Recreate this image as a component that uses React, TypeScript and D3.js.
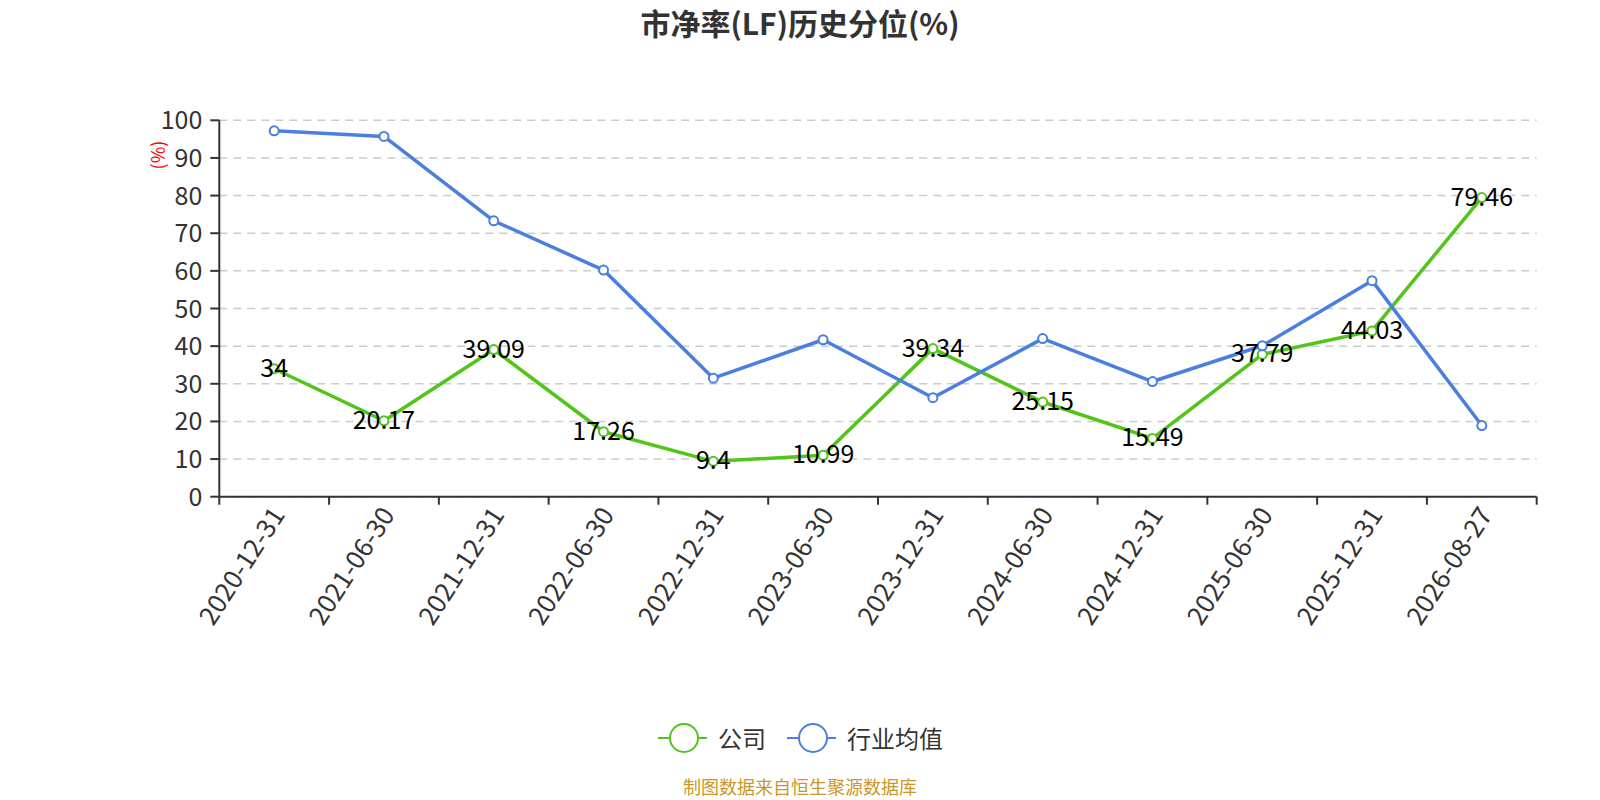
import React from "react";
import * as d3 from "d3";

const categories = [
  "2020-12-31", "2021-06-30", "2021-12-31", "2022-06-30", "2022-12-31", "2023-06-30",
  "2023-12-31", "2024-06-30", "2024-12-31", "2025-06-30", "2025-12-31", "2026-08-27",
];
const companyValues = [34, 20.17, 39.09, 17.26, 9.4, 10.99, 39.34, 25.15, 15.49, 37.79, 44.03, 79.46];
const industryValues = [97.2, 95.7, 73.3, 60.2, 31.5, 41.7, 26.3, 42.0, 30.6, 40.1, 57.4, 18.9];
const yTicks = [0, 10, 20, 30, 40, 50, 60, 70, 80, 90, 100];
const seriesNames = ["公司", "行业均值"];
const titleText = "市净率(LF)历史分位(%)";
const yAxisName = "(%)";
const footerText = "制图数据来自恒生聚源数据库";

const W = 1600;
const H = 800;
const left = 219.3;
const right = 1536.7;
const top = 120.3;
const bottom = 496.7;
const GREEN = "#52c41a";
const BLUE = "#4a7fe0";
const FONT = "'Noto Sans CJK SC', 'Noto Sans', sans-serif";

export default function App() {
  const x = d3.scaleBand<string>().domain(categories).range([left, right]);
  const y = d3.scaleLinear().domain([0, 100]).range([bottom, top]);
  const cx = (c: string) => (x(c) as number) + x.bandwidth() / 2;
  const line = d3
    .line<number>()
    .x((_, i) => cx(categories[i]))
    .y((d) => y(d));

  const series = [
    { name: seriesNames[0], values: companyValues, color: GREEN },
    { name: seriesNames[1], values: industryValues, color: BLUE },
  ];

  const legendItems = [
    { name: seriesNames[0], color: GREEN, x0: 658 },
    { name: seriesNames[1], color: BLUE, x0: 787 },
  ];

  return (
    <svg
      width={W}
      height={H}
      style={{ position: "absolute", left: 0, top: 0, background: "#fff" }}
      fontFamily={FONT}
    >
      <text x={800} y={22} textAnchor="middle" dominantBaseline="central" fontSize={30} fontWeight="bold" fill="#333">
        {titleText}
      </text>

      {/* grid */}
      {yTicks.map((t) => (
        <line
          key={"g" + t}
          x1={left}
          x2={right}
          y1={y(t)}
          y2={y(t)}
          stroke="#ccc"
          strokeWidth={1.5}
          strokeDasharray="8,6"
        />
      ))}

      {/* y axis */}
      <line x1={left} x2={left} y1={top} y2={bottom} stroke="#333" strokeWidth={2} />
      {yTicks.map((t) => (
        <g key={"y" + t}>
          <line x1={left - 9} x2={left} y1={y(t)} y2={y(t)} stroke="#333" strokeWidth={2} />
          <text x={left - 17} y={y(t) - 2} textAnchor="end" dominantBaseline="central" fontSize={25} fill="#333">
            {t}
          </text>
        </g>
      ))}
      <text
        transform={`translate(157,155) rotate(-90)`}
        textAnchor="middle"
        dominantBaseline="central"
        fontSize={18}
        fill="red"
      >
        {yAxisName}
      </text>

      {/* x axis */}
      <line x1={left} x2={right} y1={bottom} y2={bottom} stroke="#333" strokeWidth={2} />
      {[...categories.map((c) => x(c) as number), right].map((p, i) => (
        <line key={"xt" + i} x1={p} x2={p} y1={bottom} y2={bottom + 8} stroke="#333" strokeWidth={2} />
      ))}
      {categories.map((c) => (
        <text
          key={"xl" + c}
          transform={`translate(${cx(c) + 2},${bottom + 12}) rotate(-57)`}
          textAnchor="end"
          dominantBaseline="central"
          fontSize={26}
          fill="#333"
        >
          {c}
        </text>
      ))}

      {/* series */}
      {series.map((s) => (
        <g key={s.name}>
          <path d={line(s.values) || ""} fill="none" stroke={s.color} strokeWidth={3.5} strokeLinejoin="round" />
          {s.values.map((v, i) => (
            <circle key={i} cx={cx(categories[i])} cy={y(v)} r={4.5} fill="#fff" stroke={s.color} strokeWidth={2} />
          ))}
        </g>
      ))}
      {companyValues.map((v, i) => (
        <text
          key={"lab" + i}
          x={cx(categories[i])}
          y={y(v) - 3}
          textAnchor="middle"
          dominantBaseline="central"
          fontSize={25}
          fill="#000"
        >
          {v}
        </text>
      ))}

      {/* legend */}
      {legendItems.map((l) => (
        <g key={"lg" + l.name}>
          <line x1={l.x0} x2={l.x0 + 49} y1={738} y2={738} stroke={l.color} strokeWidth={2} />
          <circle cx={l.x0 + 26} cy={738} r={14} fill="#fff" stroke={l.color} strokeWidth={2} />
          <text x={l.x0 + 60} y={737} dominantBaseline="central" fontSize={24} fill="#333">
            {l.name}
          </text>
        </g>
      ))}

      <text x={800} y={786} textAnchor="middle" dominantBaseline="central" fontSize={18} fill="#c9972b">
        {footerText}
      </text>
    </svg>
  );
}
